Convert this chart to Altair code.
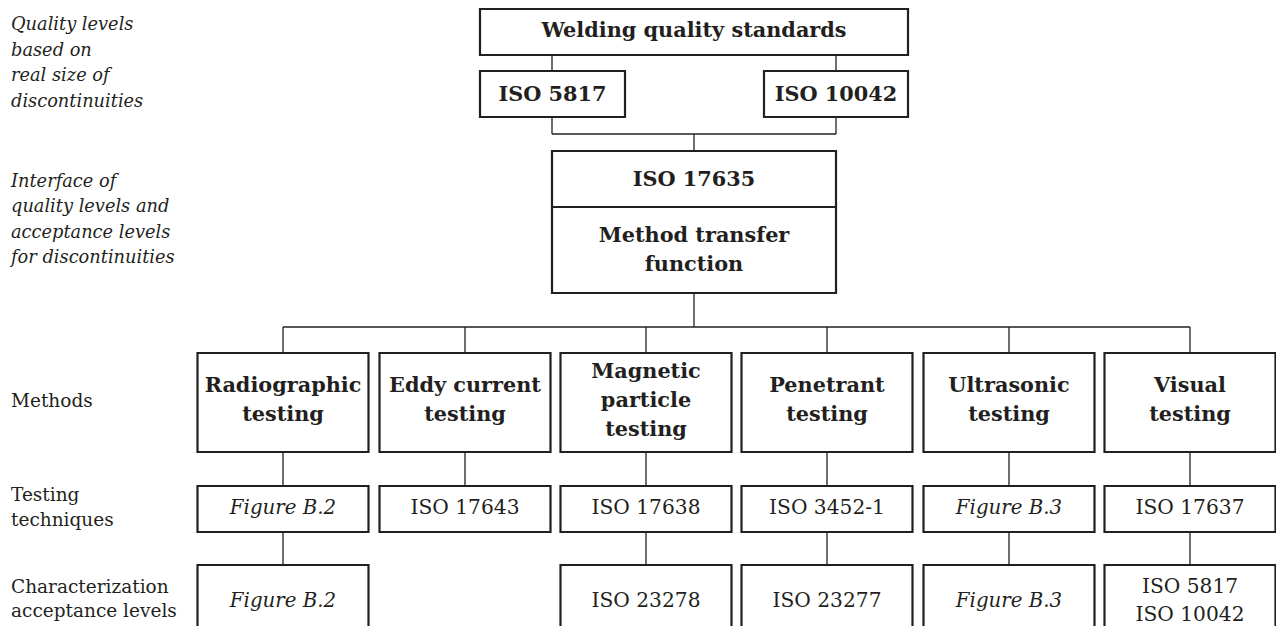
import altair as alt
import pandas as pd

# ---------------- content ----------------
TOP_LABEL = "Welding quality standards"
QUALITY_STANDARDS = ["ISO 5817", "ISO 10042"]
INTERFACE_STANDARD = "ISO 17635"
INTERFACE_FUNCTION = "Method transfer\nfunction"
METHODS = [
    "Radiographic\ntesting",
    "Eddy current\ntesting",
    "Magnetic\nparticle\ntesting",
    "Penetrant\ntesting",
    "Ultrasonic\ntesting",
    "Visual\ntesting",
]
TECHNIQUES = ["Figure B.2", "ISO 17643", "ISO 17638", "ISO 3452-1", "Figure B.3", "ISO 17637"]
ACCEPTANCE = ["Figure B.2", "", "ISO 23278", "ISO 23277", "Figure B.3", "ISO 5817\nISO 10042"]
SIDE_ITALIC = [
    "Quality levels\nbased on\nreal size of\ndiscontinuities",
    "Interface of\nquality levels and\nacceptance levels\nfor discontinuities",
]
SIDE_REGULAR = ["Methods", "Testing\ntechniques", "Characterization\n\u00a0acceptance levels"]

# ---------------- layout (diagram pixel space) ----------------
W, H = 1268, 618
DOM_X = [10, 10 + W]
DOM_Y = [5, 5 + H]
COL_CENTERS = [285, 467, 648, 829, 1011, 1192]
COL_HALF = 85.5
ROW_METHOD = (350, 449)
ROW_TECH = (483, 529)
ROW_ACC = (562, 660)
BUS_Y = 324
TOP_BOX = (482, 910, 6, 52)
QS_BOXES = [(482, 627, 68, 114), (766, 910, 68, 114)]
QS_CENTERS = [554, 838]
JOIN_Y = 131
MAIN_X = 696
IF_BOX = (554, 838, 148, 290)
IF_DIVIDER = 204
SIDE_ITALIC_Y = [60.5, 217]
SIDE_REGULAR_Y = [398, 504.5, 596]
SIDE_X = 13

INK = "#231f20"
FONT = "DejaVu Serif"
FS_BOLD = 20.8
FS_BOX = 20.2
FS_BOX_IT = 19.8
FS_SIDE = 18.5
FS_SIDE_IT = 17.8
LH_BOLD = 29
LH_BOX = 28
LH_SIDE_IT = 25.6
LH_SIDE = 24.5


def first_line_y(center, text, lh):
    n = text.count("\n") + 1
    return center - (n - 1) * lh / 2


# ---------------- tables ----------------
boxes = [dict(x=TOP_BOX[0], x2=TOP_BOX[1], y=TOP_BOX[2], y2=TOP_BOX[3])]
for b in QS_BOXES:
    boxes.append(dict(x=b[0], x2=b[1], y=b[2], y2=b[3]))
boxes.append(dict(x=IF_BOX[0], x2=IF_BOX[1], y=IF_BOX[2], y2=IF_BOX[3]))
for i, c in enumerate(COL_CENTERS):
    boxes.append(dict(x=c - COL_HALF, x2=c + COL_HALF, y=ROW_METHOD[0], y2=ROW_METHOD[1]))
    boxes.append(dict(x=c - COL_HALF, x2=c + COL_HALF, y=ROW_TECH[0], y2=ROW_TECH[1]))
    if ACCEPTANCE[i]:
        boxes.append(dict(x=c - COL_HALF, x2=c + COL_HALF, y=ROW_ACC[0], y2=ROW_ACC[1]))
boxes_df = pd.DataFrame(boxes)

lines = [dict(x=IF_BOX[0], x2=IF_BOX[1], y=IF_DIVIDER, y2=IF_DIVIDER)]
for qx in QS_CENTERS:
    lines.append(dict(x=qx, x2=qx, y=TOP_BOX[3], y2=QS_BOXES[0][2]))
    lines.append(dict(x=qx, x2=qx, y=QS_BOXES[0][3], y2=JOIN_Y))
lines.append(dict(x=QS_CENTERS[0], x2=QS_CENTERS[1], y=JOIN_Y, y2=JOIN_Y))
lines.append(dict(x=MAIN_X, x2=MAIN_X, y=JOIN_Y, y2=IF_BOX[2]))
lines.append(dict(x=MAIN_X, x2=MAIN_X, y=IF_BOX[3], y2=BUS_Y))
lines.append(dict(x=COL_CENTERS[0], x2=COL_CENTERS[-1], y=BUS_Y, y2=BUS_Y))
for i, c in enumerate(COL_CENTERS):
    lines.append(dict(x=c, x2=c, y=BUS_Y, y2=ROW_METHOD[0]))
    lines.append(dict(x=c, x2=c, y=ROW_METHOD[1], y2=ROW_TECH[0]))
    if ACCEPTANCE[i]:
        lines.append(dict(x=c, x2=c, y=ROW_TECH[1], y2=ROW_ACC[0]))
lines_df = pd.DataFrame(lines)
divider_df = lines_df.iloc[:1]
conn_df = lines_df.iloc[1:]

bold_txt = [
    dict(x=(TOP_BOX[0] + TOP_BOX[1]) / 2, y=28, t=TOP_LABEL),
    dict(x=(IF_BOX[0] + IF_BOX[1]) / 2, y=177, t=INTERFACE_STANDARD),
    dict(x=(IF_BOX[0] + IF_BOX[1]) / 2, y=first_line_y(247.5, INTERFACE_FUNCTION, LH_BOLD), t=INTERFACE_FUNCTION),
]
for b, t in zip(QS_BOXES, QUALITY_STANDARDS):
    bold_txt.append(dict(x=(b[0] + b[1]) / 2, y=91.5, t=t))
for c, t in zip(COL_CENTERS, METHODS):
    bold_txt.append(dict(x=c, y=first_line_y(397.5, t, LH_BOLD), t=t))
bold_df = pd.DataFrame(bold_txt)

reg_txt, ital_txt = [], []
for c, t in zip(COL_CENTERS, TECHNIQUES):
    (ital_txt if t.startswith("Figure") else reg_txt).append(dict(x=c, y=505, t=t))
for c, t in zip(COL_CENTERS, ACCEPTANCE):
    if t:
        (ital_txt if t.startswith("Figure") else reg_txt).append(
            dict(x=c, y=first_line_y(598, t, LH_BOX), t=t)
        )
reg_df = pd.DataFrame(reg_txt)
ital_df = pd.DataFrame(ital_txt)

side_it_df = pd.DataFrame(dict(
    x=[SIDE_X] * len(SIDE_ITALIC),
    y=[first_line_y(c, t, LH_SIDE_IT) for c, t in zip(SIDE_ITALIC_Y, SIDE_ITALIC)],
    t=SIDE_ITALIC,
))
side_rg_df = pd.DataFrame(dict(
    x=[SIDE_X] * len(SIDE_REGULAR),
    y=[first_line_y(c, t, LH_SIDE) for c, t in zip(SIDE_REGULAR_Y, SIDE_REGULAR)],
    t=SIDE_REGULAR,
))

# ---------------- encodings ----------------
xs = alt.Scale(domain=DOM_X, nice=False, zero=False)
ys = alt.Scale(domain=DOM_Y, nice=False, zero=False, reverse=True)
X = alt.X("x:Q", scale=xs, axis=None)
Y = alt.Y("y:Q", scale=ys, axis=None)

rects = alt.Chart(boxes_df).mark_rect(fill="white", stroke=INK, strokeWidth=2.2).encode(
    x=X, x2="x2:Q", y=Y, y2="y2:Q"
)
connectors = alt.Chart(conn_df).mark_rule(color=INK, strokeWidth=1.3).encode(
    x=X, x2="x2:Q", y=Y, y2="y2:Q"
)
divider = alt.Chart(divider_df).mark_rule(color=INK, strokeWidth=2).encode(
    x=X, x2="x2:Q", y=Y, y2="y2:Q"
)


def text_layer(df, size, lh, weight="normal", style="normal", align="center"):
    return alt.Chart(df).mark_text(
        font=FONT, fontSize=size, fontWeight=weight, fontStyle=style, color=INK,
        align=align, baseline="middle", lineBreak="\n", lineHeight=lh,
    ).encode(x=X, y=Y, text="t:N")


chart = alt.layer(
    connectors,
    rects,
    divider,
    text_layer(bold_df, FS_BOLD, LH_BOLD, weight="bold"),
    text_layer(reg_df, FS_BOX, LH_BOX),
    text_layer(ital_df, FS_BOX_IT, LH_BOX, style="italic"),
    text_layer(side_it_df, FS_SIDE_IT, LH_SIDE_IT, style="italic", align="left"),
    text_layer(side_rg_df, FS_SIDE, LH_SIDE, align="left"),
).properties(
    width=W, height=H, padding=0, autosize=alt.AutoSizeParams(type="none"), background="white"
).configure_view(stroke=None)

chart.save("out.html", embed_options={"renderer": "svg", "actions": False})
